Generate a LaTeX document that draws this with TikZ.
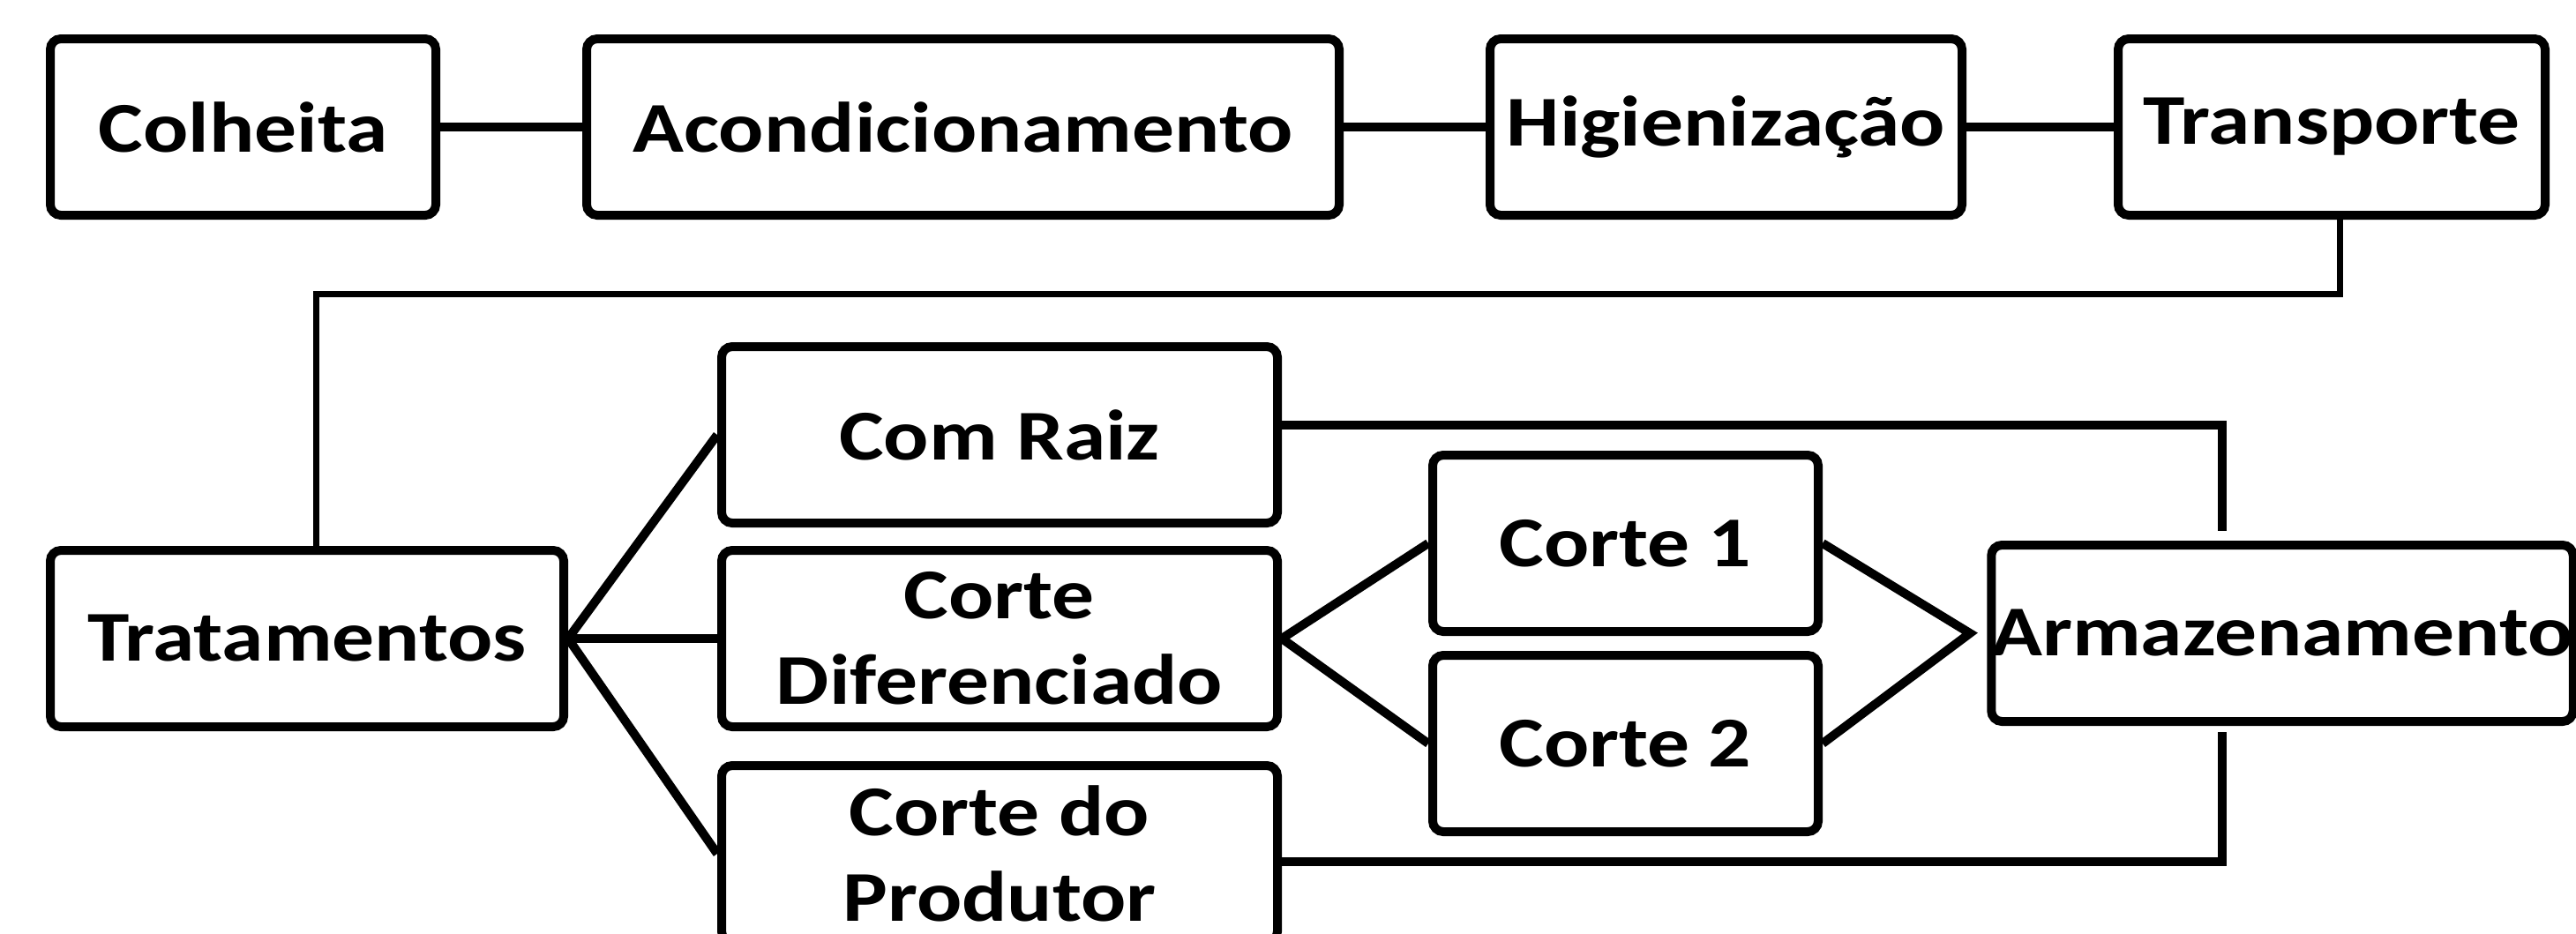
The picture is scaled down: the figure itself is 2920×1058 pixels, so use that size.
\documentclass[tikz,border=0pt]{standalone}
\usepackage{fontspec}
\newfontfamily\diafont{Carlito}[FakeStretch=1.18]
\begin{document}
\begin{tikzpicture}[x=1pt,y=-1pt,
  stagebox/.style={draw=black, line width=10pt, rounded corners=12pt, fill=white,
    minimum height=200pt, inner sep=0pt, align=center,
    font=\diafont\bfseries\fontsize{81}{97}\selectfont},
  link/.style={draw=black, line width=10pt},
  thinlink/.style={draw=black, line width=7pt}]
\useasboundingbox (0,0) rectangle (2920,1058);
\clip (0,0) rectangle (2920,1058);
\fill[white] (0,0) rectangle (2920,1058);
% top row
\node[stagebox, minimum width=437pt] (colheita) at (275.5,144) {Colheita};
\node[stagebox, minimum width=853pt] (acond) at (1091.5,144) {Acondicionamento};
\node[stagebox, minimum width=535pt] (higien) at (1956.5,144) {Higienização};
\node[stagebox, minimum width=484pt] (transp) at (2643,144) {Transporte};
% second part
\node[stagebox, minimum width=582pt] (trat) at (348,724) {Tratamentos};
\node[stagebox, minimum width=630pt] (comraiz) at (1133,493) {Com Raiz};
\node[stagebox, minimum width=630pt] (cortedif) at (1133,724) {Corte\\Diferenciado};
\node[stagebox, minimum width=630pt] (corteprod) at (1133,968) {Corte do\\Produtor};
\node[stagebox, minimum width=437pt] (corte1) at (1842.5,616) {Corte 1};
\node[stagebox, minimum width=437pt] (corte2) at (1842.5,843) {Corte 2};
\node[stagebox, minimum width=658pt] (armaz) at (2587,718) {Armazenamento};
% coordinates for connector bends
\coordinate (tA) at (2652,333);
\coordinate (tB) at (358,333);
\coordinate (aj) at (2233,718);
\coordinate (crc) at (2519,482);
\coordinate (art) at (2519,602);
\coordinate (cpc) at (2519,977);
\coordinate (arb) at (2519,830);
% connectors
\draw[link] (colheita.east) -- (acond.west);
\draw[link] (acond.east) -- (higien.west);
\draw[link] (higien.east) -- (transp.west);
\draw[thinlink] (transp.south -| tA) -- (tA) -- (tB) -- (trat.north -| tB);
\draw[link] (trat.east) -- (comraiz.west);
\draw[link] (trat.east) -- (cortedif.west);
\draw[link] (trat.east) -- (corteprod.west);
\draw[link] (cortedif.east) -- (corte1.west);
\draw[link] (cortedif.east) -- (corte2.west);
\draw[link] (corte1.east) -- (aj) -- (corte2.east);
\draw[link] (comraiz.east |- crc) -- (crc) -- (art);
\draw[link] (corteprod.east |- cpc) -- (cpc) -- (arb);
\end{tikzpicture}
\end{document}
